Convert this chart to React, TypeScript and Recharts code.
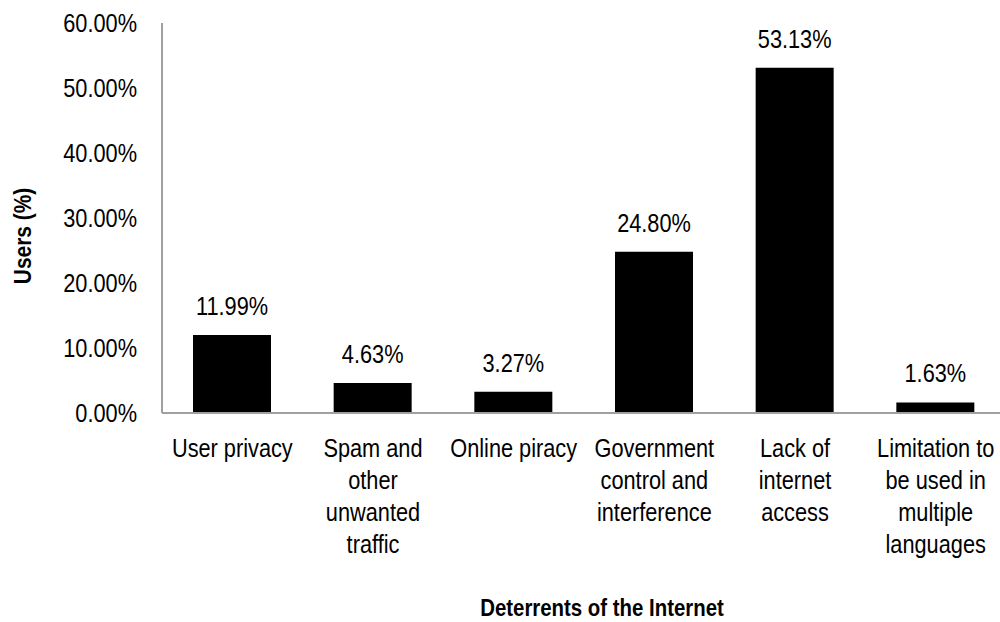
import React from 'react';
import { BarChart, Bar, XAxis, YAxis, LabelList, Label } from 'recharts';

const categories = [
  'User privacy',
  'Spam and other unwanted traffic',
  'Online piracy',
  'Government control and interference',
  'Lack of internet access',
  'Limitation to be used in multiple languages',
];
const categoryLines = [
  ['User privacy'],
  ['Spam and', 'other', 'unwanted', 'traffic'],
  ['Online piracy'],
  ['Government', 'control and', 'interference'],
  ['Lack of', 'internet', 'access'],
  ['Limitation to', 'be used in', 'multiple', 'languages'],
];
const users = [11.99, 4.63, 3.27, 24.8, 53.13, 1.63];
const yTicks = [0, 10, 20, 30, 40, 50, 60];

const data = categories.map((c, i) => ({ name: c, value: users[i] }));

const FONT = "'Liberation Sans', Arial, sans-serif";
const AXIS = '#a0a0a0';
const SX = 0.87;

const NText = ({ x, y, anchor = 'middle', size = 25, bold = false, rotate = 0, sx = SX, children }: any) => (
  <text
    transform={`translate(${x} ${y}) rotate(${rotate}) scale(${sx} 1)`}
    x={0}
    y={0}
    textAnchor={anchor}
    fontFamily={FONT}
    fontSize={size}
    fontWeight={bold ? 'bold' : 'normal'}
    fill="#000"
  >
    {children}
  </text>
);

const XTick = (props: any) => {
  const { x, y, payload } = props;
  const idx = categories.indexOf(payload.value);
  const lines = categoryLines[idx] || [payload.value];
  return (
    <g>
      {lines.map((l, i) => (
        <NText key={i} x={x} y={y + 36 + i * 32}>
          {l}
        </NText>
      ))}
    </g>
  );
};

const YTick = (props: any) => {
  const { y, payload } = props;
  return (
    <NText x={137} y={y + 9} anchor="end">
      {payload.value.toFixed(2) + '%'}
    </NText>
  );
};

const BarLabel = (props: any) => {
  const { x, y, width, value } = props;
  return (
    <NText x={x + width / 2} y={y - 20}>
      {Number(value).toFixed(2) + '%'}
    </NText>
  );
};

export default function App() {
  return (
    <div style={{ position: 'absolute', left: 0, top: 0, width: 1000, height: 622, overflow: 'hidden', background: '#fff' }}>
      <BarChart
        width={1006}
        height={622}
        data={data}
        margin={{ top: 23, right: 0, bottom: 0, left: 0 }}
      >
        <XAxis
          dataKey="name"
          height={209}
          interval={0}
          tickLine={false}
          axisLine={{ stroke: AXIS, strokeWidth: 2 }}
          tick={<XTick />}
        >
          <Label
            content={() => (
              <NText x={602} y={616} bold size={24} sx={0.85}>
                Deterrents of the Internet
              </NText>
            )}
          />
        </XAxis>
        <YAxis
          width={162}
          domain={[0, 60]}
          ticks={yTicks}
          tickLine={false}
          axisLine={{ stroke: AXIS, strokeWidth: 2 }}
          tick={<YTick />}
        >
          <Label
            content={() => (
              <NText x={31} y={236} rotate={-90} bold size={24} sx={0.87}>
                Users (%)
              </NText>
            )}
          />
        </YAxis>
        <Bar dataKey="value" fill="#000" barSize={78} isAnimationActive={false}>
          <LabelList dataKey="value" content={<BarLabel />} />
        </Bar>
      </BarChart>
    </div>
  );
}
